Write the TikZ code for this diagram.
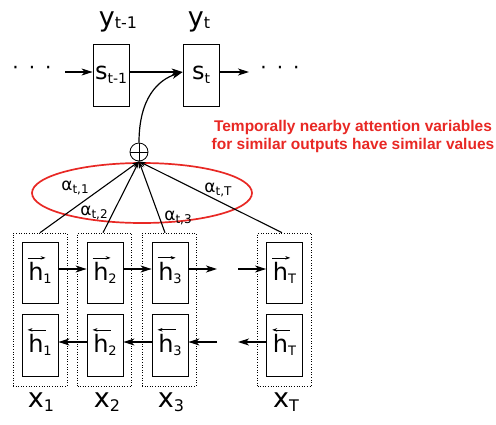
\documentclass[tikz,border=0pt]{standalone}
\usepackage{fontspec}
\setmainfont{DejaVu Sans}
\newfontfamily\redfont{Liberation Sans}
\usetikzlibrary{arrows.meta,shapes.geometric}
\definecolor{attred}{RGB}{232,40,36}
\newcommand\sbx[5]{{\fontsize{#1}{#1}\selectfont #2}\raisebox{-#5}{\fontsize{#3}{#3}\selectfont #4}}
\newcommand\hfw[1]{{\fontsize{24}{24}\selectfont\rlap{\raisebox{21pt}[0pt][0pt]{\kern-1pt\tikz\draw[-{Stealth[length=5pt,width=3.5pt]},line width=0.6pt] (0pt,0pt) -- (18pt,0pt);}}h}\raisebox{-3pt}{\fontsize{13}{13}\selectfont #1}}
\newcommand\hbw[1]{{\fontsize{24}{24}\selectfont\rlap{\raisebox{21pt}[0pt][0pt]{\kern-1pt\tikz\draw[{Stealth[length=5pt,width=3.5pt]}-,line width=0.6pt] (0pt,0pt) -- (18pt,0pt);}}h}\raisebox{-3pt}{\fontsize{13}{13}\selectfont #1}}
\begin{document}
\begin{tikzpicture}[x=1pt,y=-1pt,
  cell/.style={draw, line width=0.8pt, minimum width=36pt, minimum height=61pt, inner sep=0pt},
  col/.style={draw, dotted, line width=0.6pt, minimum width=54pt, minimum height=153pt, inner sep=0pt},
  arr/.style={-{Stealth[length=11pt,width=7pt,inset=3pt]}, line width=1.2pt},
  att/.style={-{Stealth[length=7pt,width=4.5pt]}, line width=1.1pt},
  lbl/.style={inner sep=0pt},
]
\useasboundingbox (0,0) rectangle (496,424);
% decoder
\node[cell, minimum height=62pt] (s1) at (111,75) {\sbx{24}{s}{14}{t-1}{4pt}};
\node[cell, minimum height=62pt] (s2) at (201,75) {\sbx{24}{s}{14}{t}{4pt}};
\node[lbl] (y1) at (118,22) {\sbx{27}{y}{16}{t-1}{2pt}};
\node[lbl] (y2) at (199,22) {\sbx{27}{y}{16}{t}{2pt}};
\node[lbl] (ld) at (32,70) {\fontsize{20}{20}\selectfont ·\hspace{10pt}·\hspace{10pt}·};
\node[lbl] (rd) at (280,70) {\fontsize{20}{20}\selectfont ·\hspace{10pt}·\hspace{10pt}·};
\coordinate (la) at (65,72);
\coordinate (ra) at (249,72);
\draw[arr] (la) -- ([yshift=3pt]s1.west);
\draw[arr] ([yshift=3pt]s1.east) -- ([yshift=3pt]s2.west);
\draw[arr] ([yshift=3pt]s2.east) -- (ra);
% sum
\node[circle, draw, line width=0.8pt, minimum size=18pt, inner sep=0pt,
  path picture={\draw[line width=0.8pt] (path picture bounding box.north) -- (path picture bounding box.south)
  (path picture bounding box.west) -- (path picture bounding box.east);}] (op) at (139,152) {};
\draw[arr] (op.north) .. controls (139,98) and (158,80) .. ([yshift=3pt]s2.west);
% note
\node[attred, align=center, inner sep=0pt, font=\redfont\bfseries\fontsize{15.5}{18}\selectfont] (note) at (353,136)
  {Temporally nearby attention variables\\for similar outputs have similar values};
% encoder columns
\node[col] (c1) at (40,309.5) {};
\node[col] (c2) at (104.5,309.5) {};
\node[col] (c3) at (169,309.5) {};
\node[col] (cT) at (284.5,309.5) {};
\node[cell] (f1) at (40,273) {\hfw{1}};
\node[cell] (f2) at (105,273) {\hfw{2}};
\node[cell] (f3) at (170,273) {\hfw{3}};
\node[cell] (fT) at (284.5,273) {\hfw{T}};
\node[cell, minimum height=62pt] (b1) at (40,345) {\hbw{1}};
\node[cell, minimum height=62pt] (b2) at (105,345) {\hbw{2}};
\node[cell, minimum height=62pt] (b3) at (170,345) {\hbw{3}};
\node[cell, minimum height=62pt] (bT) at (284.5,345) {\hbw{T}};
\coordinate (fa) at (217,269);
\coordinate (fb) at (238,269);
\coordinate (ba) at (238,342);
\coordinate (bb) at (217,342);
\draw[arr] ([yshift=4pt]f1.east) -- ([yshift=4pt]f2.west);
\draw[arr] ([yshift=4pt]f2.east) -- ([yshift=4pt]f3.west);
\draw[arr] ([yshift=4pt]f3.east) -- (fa);
\draw[arr] (fb) -- ([yshift=4pt]fT.west);
\draw[arr] ([yshift=3pt]b2.west) -- ([yshift=3pt]b1.east);
\draw[arr] ([yshift=3pt]b3.west) -- ([yshift=3pt]b2.east);
\draw[arr] (bb) -- ([yshift=3pt]b3.east);
\draw[arr] ([yshift=3pt]bT.west) -- (ba);
\node[lbl] (x1) at (41,402) {\sbx{27}{x}{16}{1}{4pt}};
\node[lbl] (x2) at (107,402) {\sbx{27}{x}{16}{2}{4pt}};
\node[lbl] (x3) at (171,402) {\sbx{27}{x}{16}{3}{4pt}};
\node[lbl] (xT) at (286,402) {\sbx{27}{x}{16}{T}{4pt}};
% attention
\draw[attred, line width=1.7pt] (142,193) ellipse [x radius=110, y radius=30];
\draw[att] (c1.north) -- (op.south);
\draw[att] ([xshift=-1.5pt]c2.north) -- (op.south);
\draw[att] ([xshift=-4pt]c3.north) -- (op.south);
\draw[att] ([xshift=-2.5pt]cT.north) -- (op.south);
\node[lbl] (a1) at (75,188) {\sbx{17}{α}{12}{t,1}{3pt}};
\node[lbl] (a2) at (94,213) {\sbx{17}{α}{12}{t,2}{3pt}};
\node[lbl] (a3) at (178,218) {\sbx{17}{α}{12}{t,3}{3pt}};
\node[lbl] (aT) at (218,190) {\sbx{17}{α}{12}{t,T}{3pt}};
\end{tikzpicture}
\end{document}
